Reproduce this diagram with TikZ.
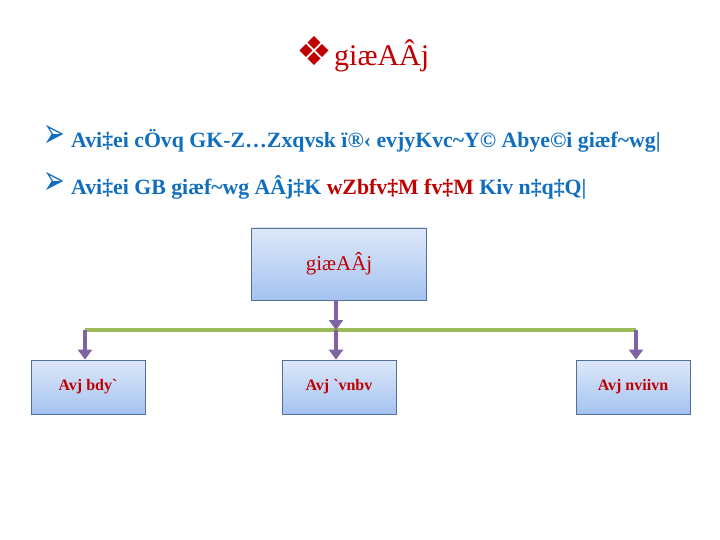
\documentclass[tikz,border=0pt]{standalone}
\usepackage{fontspec}
\usepackage{graphicx}
\setmainfont{Liberation Serif}[Ligatures=TeXOff]
\newfontfamily\symfont{DejaVu Sans}
\usetikzlibrary{arrows.meta}
\definecolor{tred}{RGB}{192,0,0}
\definecolor{tblue}{RGB}{16,110,190}
\definecolor{tgreen}{RGB}{155,187,89}
\definecolor{tpurple}{RGB}{128,100,162}
\definecolor{tborder}{RGB}{84,112,150}
\definecolor{gtop}{RGB}{222,232,250}
\definecolor{gbot}{RGB}{164,195,240}
\tikzset{
  bulletsym/.style={anchor=base east, inner sep=0, text=tblue, font=\symfont\fontsize{26}{30}\selectfont},
  bullettext/.style={anchor=base west, inner sep=0, text=tblue, font=\bfseries\fontsize{21.8}{26}\selectfont},
  boxnode/.style={draw=tborder, line width=0.8pt, top color=gtop, bottom color=gbot, text=tred, inner sep=0},
  childbox/.style={boxnode, minimum width=114pt, minimum height=54pt, font=\bfseries\fontsize{16}{19}\selectfont},
  trunk/.style={draw=tgreen, line width=4pt},
  pfeil/.style={draw=tpurple, line width=4pt, -{Triangle[width=14pt,length=10pt]}},
}
\begin{document}
\begin{tikzpicture}[x=1pt,y=-1pt]
\useasboundingbox (0,0) rectangle (720,540);
% title
\node[anchor=base west, inner sep=0, text=tred, font=\fontsize{30}{36}\selectfont] (title) at (334,66) {giæAÂj};
\node[anchor=base east, inner sep=0, text=tred, font=\symfont\fontsize{40}{44}\selectfont] (ticon) at ([xshift=-1pt]title.base west) {❖};
% bullets
\node[bullettext] (b1) at (71,148) {Avi‡ei cÖvq GK-Z…Zxqvsk ï®‹ evjyKvc\textasciitilde Y© Abye©i giæf\textasciitilde wg|};
\node[bulletsym] (s1) at ([xshift=-6pt]b1.base west) {\scalebox{1}[1.6]{➢}};
\node[bullettext] (b2) at (71,195) {Avi‡ei GB giæf\textasciitilde wg AÂj‡K \textcolor{tred}{wZbfv‡M fv‡M} Kiv n‡q‡Q|};
\node[bulletsym] (s2) at ([xshift=-6pt]b2.base west) {\scalebox{1}[1.6]{➢}};
% boxes
\node[boxnode, minimum width=175pt, minimum height=72pt, font=\fontsize{21}{25}\selectfont] (top) at (339,264) {giæAÂj};
\node[childbox] (c1) at (88,387) {Avj bdy`};
\node[childbox] (c2) at (339,387) {Avj `vnbv};
\node[childbox] (c3) at (633,387) {Avj nviivn};
% connectors
\coordinate (jL) at (85,330);
\coordinate (jM) at (336,330);
\coordinate (jR) at (636,330);
\draw[trunk] (jL) -- (jR);
\draw[pfeil] (top.south -| jM) -- (jM);
\draw[pfeil] (jL) -- (jL |- c1.north);
\draw[pfeil] (jM) -- (jM |- c2.north);
\draw[pfeil] (jR) -- (jR |- c3.north);
\end{tikzpicture}
\end{document}
